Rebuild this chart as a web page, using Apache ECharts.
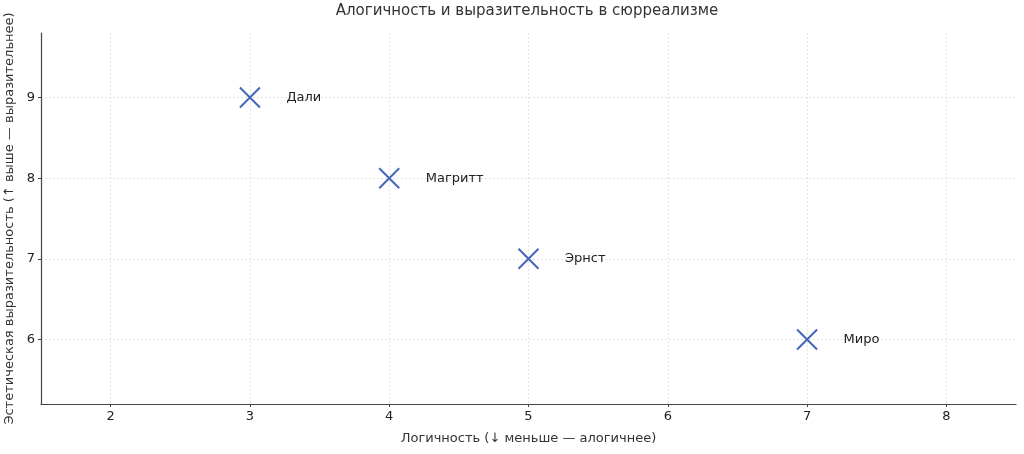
<!DOCTYPE html>
<html>
<head>
<meta charset="utf-8">
<script src="https://cdn.jsdelivr.net/npm/echarts@6/dist/echarts.min.js"></script>
<style>html,body{margin:0;padding:0;background:#fff}#c{width:1024px;height:454px}</style>
</head>
<body>
<div id="c"></div>
<script>
var artists = ['Дали', 'Магритт', 'Эрнст', 'Миро'];
var logic = [3, 4, 5, 7];
var expressiveness = [9, 8, 7, 6];
var xTicks = [2, 3, 4, 5, 6, 7, 8];
var yTicks = [6, 7, 8, 9];

var chart = echarts.init(document.getElementById('c'));
var font = 'DejaVu Sans';
var data = artists.map(function (n, i) { return [logic[i], expressiveness[i], n]; });
chart.setOption({
  animation: false,
  backgroundColor: '#fff',
  textStyle: { fontFamily: font },
  title: {
    text: 'Алогичность и выразительность в сюрреализме',
    left: 522, top: 4, textAlign: 'center', padding: [0, 5],
    textStyle: { fontFamily: font, fontSize: 15, fontWeight: 'normal', color: '#333' }
  },
  grid: { left: 41, right: 8, top: 33, bottom: 50, outerBoundsMode: 'none', containLabel: false },
  xAxis: {
    type: 'value', min: 1.5, max: 8.5, interval: 1,
    name: 'Логичность (↓ меньше — алогичнее)',
    nameLocation: 'middle', nameGap: 28,
    nameTextStyle: { fontFamily: font, fontSize: 13, color: '#333' },
    axisLine: { show: true, onZero: false, lineStyle: { color: '#444', width: 1.2 } },
    axisTick: { show: true, length: 3, lineStyle: { color: '#444' }, customValues: xTicks },
    axisLabel: { fontFamily: font, fontSize: 13, color: '#222', margin: 6, customValues: xTicks },
    splitLine: { show: true, lineStyle: { color: '#ddd', type: [2, 2], width: 0.8 } }
  },
  yAxis: {
    type: 'value', min: 5.2, max: 9.8, interval: 1,
    name: 'Эстетическая выразительность (↑ выше — выразительнее)',
    nameLocation: 'middle', nameGap: 25,
    nameTextStyle: { fontFamily: font, fontSize: 13, color: '#333' },
    axisLine: { show: true, onZero: false, lineStyle: { color: '#444', width: 1.2 } },
    axisTick: { show: true, length: 3, lineStyle: { color: '#444' }, customValues: yTicks },
    axisLabel: { fontFamily: font, fontSize: 13, color: '#222', margin: 6, customValues: yTicks },
    splitLine: { show: true, lineStyle: { color: '#ddd', type: [2, 2], width: 0.8 } }
  },
  series: [{
    type: 'scatter',
    data: data,
    symbol: 'path://M0,0 L10,10 M10,0 L0,10',
    symbolSize: 20,
    itemStyle: { color: 'none', borderColor: '#4466bb', borderWidth: 2, opacity: 1 },
    label: {
      show: true, position: 'right', distance: 24,
      formatter: function (p) { return p.value[2]; },
      fontFamily: font, fontSize: 13, color: '#222'
    }
  }]
});
</script>
</body>
</html>
